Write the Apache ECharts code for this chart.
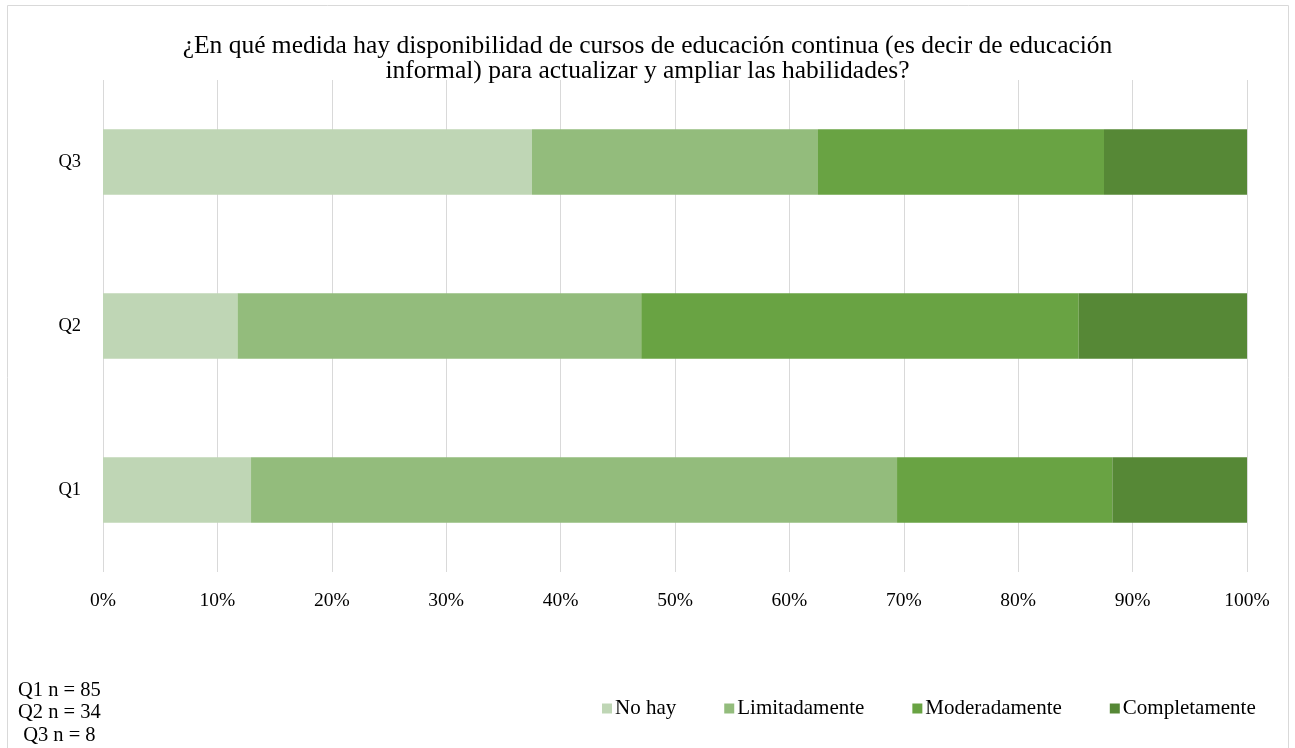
<!DOCTYPE html>
<html><head><meta charset="utf-8">
<script src="https://cdn.jsdelivr.net/npm/echarts@6/dist/echarts.min.js"></script>
<style>html,body{margin:0;padding:0;background:#fff}#c{width:1295px;height:748px}</style>
</head><body><div id="c"></div>
<script>
const categories = ['Q1', 'Q2', 'Q3'];
const seriesNames = ['No hay', 'Limitadamente', 'Moderadamente', 'Completamente'];
const noHay = [12.94, 11.76, 37.5];
const limitadamente = [56.47, 35.29, 25.0];
const moderadamente = [18.82, 38.24, 25.0];
const completamente = [11.77, 14.71, 12.5];
const xTicks = [0, 10, 20, 30, 40, 50, 60, 70, 80, 90, 100];
const colors = ['#BFD6B5', '#93BC7C', '#69A343', '#568836'];
const titleText = '¿En qué medida hay disponibilidad de cursos de educación continua (es decir de educación\ninformal) para actualizar y ampliar las habilidades?';
const noteLines = ['Q1 n = 85', 'Q2 n = 34', ' Q3 n = 8'];

const values = [noHay, limitadamente, moderadamente, completamente];
const font = '"Liberation Serif", "Times New Roman", serif';
const chart = echarts.init(document.getElementById('c'));
chart.setOption({
  animation: false,
  textStyle: { fontFamily: font },
  title: {
    text: titleText, left: 'center', top: 29,
    textStyle: { fontFamily: font, fontSize: 25.5, fontWeight: 'normal', color: '#000', lineHeight: 25 }
  },
  graphic: [
    { type: 'rect', shape: { x: 7.5, y: 5.5, width: 1281, height: 750 }, style: { fill: 'none', stroke: '#d9d9d9', lineWidth: 1 }, silent: true },
    { type: 'text', left: 18, top: 679, style: { text: noteLines.join('\n'), font: '20.5px ' + font, lineHeight: 22.5, fill: '#000' } }
  ],
  legend: {
    data: seriesNames, left: 597, top: 693, itemWidth: 10, itemHeight: 10, itemGap: 48,
    icon: 'rect',
    textStyle: { fontFamily: font, fontSize: 21, color: '#000', padding: [0, 0, 0, -2] }
  },
  grid: { left: 103, right: 48, top: 80, bottom: 176, containLabel: false },
  xAxis: {
    type: 'value', min: 0, max: 100, interval: 10,
    axisLabel: { formatter: v => xTicks.includes(v) ? v + '%' : '', fontFamily: font, fontSize: 19.5, color: '#000', margin: 19 },
    splitLine: { show: true, lineStyle: { color: '#d9d9d9', width: 1 } },
    axisLine: { show: false }, axisTick: { show: false }
  },
  yAxis: {
    type: 'category', data: categories,
    axisLabel: { fontFamily: font, fontSize: 18.5, color: '#000', margin: 22 },
    axisLine: { show: false }, axisTick: { show: false }
  },
  series: seriesNames.map((n, i) => ({
    name: n, type: 'bar', stack: 'total', data: values[i],
    barCategoryGap: '60%',
    itemStyle: { color: colors[i] }
  }))
});
</script></body></html>
